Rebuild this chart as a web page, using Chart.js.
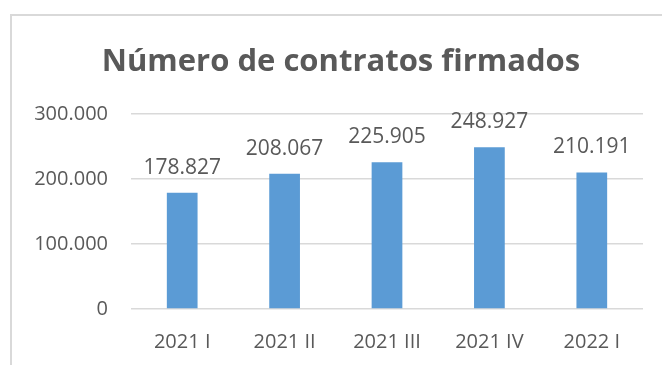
<!DOCTYPE html>
<html>
<head>
<meta charset="utf-8">
<script src="https://cdn.jsdelivr.net/npm/chart.js@4/dist/chart.umd.min.js"></script>
<style>
  body { margin: 0; background: #fff; }
  #frame {
    position: absolute; left: 10px; top: 14px; width: 700px; height: 400px;
    border-top: 2px solid #d9d9d9; border-left: 2px solid #d9d9d9;
  }
  #chart { position: absolute; left: 0; top: 0; }
</style>
</head>
<body>
<div id="frame"></div>
<canvas id="chart" width="662" height="365"></canvas>
<script>
const chartTitle = 'Número de contratos firmados'
const quarters = ['2021 I', '2021 II', '2021 III', '2021 IV', '2022 I']
const contracts = [178827, 208067, 225905, 248927, 210191]
const yTicks = [0, 100000, 200000, 300000]

const gray = '#595959'
const fontName = "'Open Sans', sans-serif"

// 178827 -> "178.827"
function withDots(n) {
    return String(Math.round(n)).replace(/\B(?=(\d{3})+(?!\d))/g, '.')
}

// value written over each bar, plus the heading (centred on the frame, not the canvas)
const extraText = {
    id: 'extraText',
    afterDatasetsDraw(chart) {
        const ctx = chart.ctx
        const meta = chart.getDatasetMeta(0)
        ctx.save()
        ctx.fillStyle = gray
        ctx.textAlign = 'center'

        ctx.font = 'bold 31px ' + fontName
        ctx.textBaseline = 'alphabetic'
        ctx.fillText(chartTitle, 341, 71)

        ctx.font = '21px ' + fontName
        meta.data.forEach((bar, i) => {
            ctx.fillText(withDots(contracts[i]), bar.x, bar.y - 19)
        })
        ctx.restore()
    }
}

new Chart(document.querySelector('#chart').getContext('2d'), {
    type: 'bar',
    data: {
        labels: quarters,
        datasets: [{
            data: contracts,
            backgroundColor: '#5b9bd5',
            barPercentage: 0.5,
            categoryPercentage: 0.6
        }]
    },
    options: {
        responsive: false,
        animation: false,
        devicePixelRatio: 1,
        layout: { padding: { left: 0, right: 19, top: 114, bottom: 0 } },
        plugins: {
            legend: { display: false },
            tooltip: { enabled: false }
        },
        scales: {
            x: {
                afterFit(axis) { axis.height = 56 },
                grid: { display: false, drawTicks: false },
                border: { display: false },
                ticks: { color: gray, padding: 21, font: { family: fontName, size: 20 } }
            },
            y: {
                min: 0,
                max: 300000,
                afterBuildTicks(axis) {
                    axis.ticks = yTicks.map(v => ({ value: v }))
                },
                afterFit(axis) { axis.width = 131 },
                grid: { color: '#d9d9d9', lineWidth: 1.5, drawTicks: false },
                border: { display: false },
                ticks: {
                    color: gray, padding: 23,
                    font: { family: fontName, size: 20 },
                    callback: v => withDots(v)
                }
            }
        }
    },
    plugins: [extraText]
})
</script>
</body>
</html>
